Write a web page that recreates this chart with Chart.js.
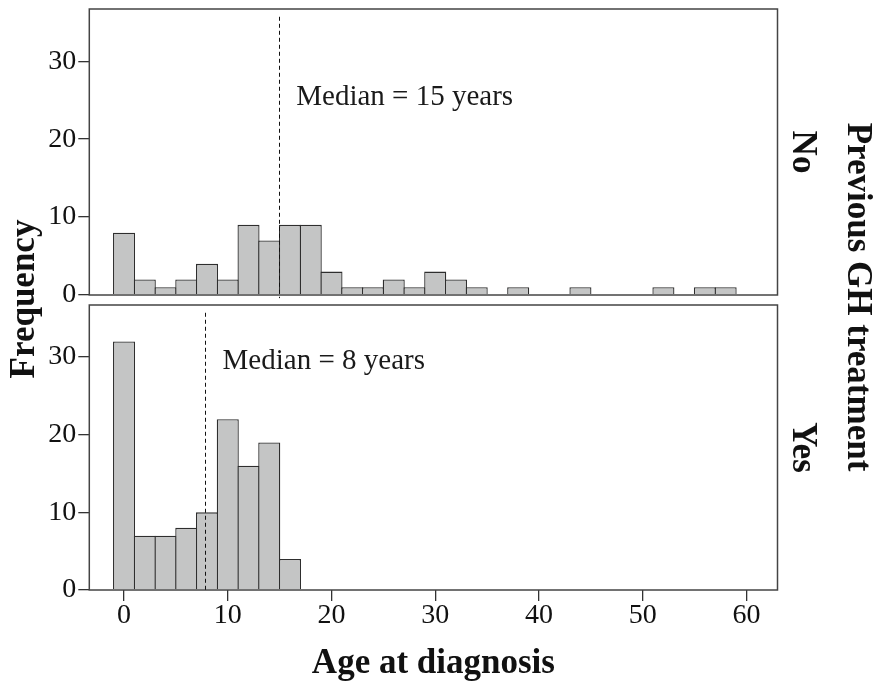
<!DOCTYPE html>
<html><head><meta charset="utf-8">
<script src="https://cdn.jsdelivr.net/npm/chart.js@4.4.1/dist/chart.umd.min.js"></script>
<style>
html,body{margin:0;padding:0;background:#fff;}
#wrap{position:relative;width:877px;height:682px;background:#fff;}
canvas{position:absolute;left:0;top:0;}
</style></head><body>
<div id="wrap"><canvas id="cNo" width="877" height="682"></canvas><canvas id="cYes" width="877" height="682"></canvas></div>
<script>
// ---- data ----
const binCentres = [0,2,4,6,8,10,12,14,16,18,20,22,24,26,28,30,32,34,36,38,40,42,44,46,48,50,52,54,56,58];
const freqNo  = [8,2,1,2,4,2,9,7,9,9,3,1,1,2,1,3,2,1,0,1,0,0,1,0,0,0,1,0,1,1];
const freqYes = [32,7,7,8,10,22,16,19,4];
const xTickValues = [0,10,20,30,40,50,60];
const yTickValues = [0,10,20,30];
const groupLabels = ['No','Yes'];
const medians = [14.9, 7.8];
const medianTexts = ['Median = 15 years','Median = 8 years'];
const medianTextY = [24.4, 28.4];
const xTitle = 'Age at diagnosis';
const yTitle = 'Frequency';
const groupTitle = 'Previous GH treatment';

Chart.defaults.font.family = "'Liberation Serif', 'Times New Roman', serif";
Chart.defaults.color = '#111';

const FILL = '#c4c5c5', EDGE = '#2e2e2e', BOX = '#444';

function makeChart(id, idx, values, isBottom) {
  const data = values.map((v, i) => ({x: binCentres[i], y: v}));
  const decor = {
    id: 'decor' + idx,
    afterDatasetsDraw(chart) {
      const {ctx, chartArea: a, scales: {x, y}} = chart;
      ctx.save();
      // panel box
      ctx.strokeStyle = BOX; ctx.lineWidth = 1.5;
      ctx.strokeRect(a.left, a.top, a.right - a.left, a.bottom - a.top);
      // median dashed line
      const mx = Math.round(x.getPixelForValue(medians[idx])) + 0.5;
      ctx.strokeStyle = '#111'; ctx.lineWidth = 1; ctx.setLineDash([4, 3]);
      ctx.beginPath();
      ctx.moveTo(mx, y.getPixelForValue(35.7));
      ctx.lineTo(mx, y.getPixelForValue(isBottom ? 0 : -0.4));
      ctx.stroke();
      ctx.setLineDash([]);
      // median text
      ctx.fillStyle = '#1a1a1a';
      ctx.font = "29px 'Liberation Serif'";
      ctx.textAlign = 'left'; ctx.textBaseline = 'alphabetic';
      ctx.fillText(medianTexts[idx], x.getPixelForValue(medians[idx] + 1.7), y.getPixelForValue(medianTextY[idx]));
      // group label (right side)
      ctx.font = "bold 35px 'Liberation Serif'";
      ctx.fillStyle = '#111';
      ctx.textAlign = 'center';
      ctx.save();
      ctx.translate(793.3, (a.top + a.bottom) / 2);
      ctx.rotate(Math.PI / 2);
      ctx.fillText(groupLabels[idx], 0, 0);
      ctx.restore();
      if (isBottom) {
        ctx.fillText(xTitle, (a.left + a.right) / 2, 673);
        ctx.save();
        ctx.translate(33.5, 299);
        ctx.rotate(-Math.PI / 2);
        ctx.fillText(yTitle, 0, 0);
        ctx.restore();
        ctx.save();
        ctx.translate(848.3, 297);
        ctx.rotate(Math.PI / 2);
        ctx.fillText(groupTitle, 0, 0);
        ctx.restore();
      }
      ctx.restore();
    }
  };
  return new Chart(document.getElementById(id), {
    type: 'bar',
    data: { datasets: [{
      data,
      backgroundColor: FILL,
      borderColor: EDGE,
      borderWidth: 1.3,
      barPercentage: 1.063,
      categoryPercentage: 1
    }]},
    options: {
      responsive: false,
      animation: false,
      devicePixelRatio: 1,
      layout: { padding: isBottom ? {top: 305, left: 0, right: 99.5, bottom: 0}
                                  : {top: 9, left: 0, right: 99.5, bottom: 387} },
      plugins: { legend: {display: false}, tooltip: {enabled: false} },
      scales: {
        x: {
          type: 'linear', min: -3.35, max: 63,
          offset: false,
          display: isBottom,
          afterFit: s => { s.height = isBottom ? 92 : 0; s.paddingLeft = 0; s.paddingRight = 0; },
          afterBuildTicks: s => { s.ticks = xTickValues.map(v => ({value: v})); },
          ticks: { font: {size: 28, lineHeight: 1}, padding: 1, color: '#111', maxRotation: 0, autoSkip: false },
          grid: { offset: false, drawOnChartArea: false, drawTicks: true, tickLength: 11, color: '#333', lineWidth: 1.3 },
          border: { display: false }
        },
        y: {
          min: 0, max: 36.7,
          afterFit: s => { s.width = 89.3; s.paddingTop = 0; s.paddingBottom = 0; },
          afterBuildTicks: s => { s.ticks = yTickValues.map(v => ({value: v})); },
          ticks: { font: {size: 28}, padding: 2, color: '#111' },
          grid: { drawOnChartArea: false, drawTicks: true, tickLength: 11, color: '#333', lineWidth: 1.3 },
          border: { display: false }
        }
      }
    },
    plugins: [decor]
  });
}

makeChart('cNo', 0, freqNo, false);
makeChart('cYes', 1, freqYes, true);
</script>
</body></html>
